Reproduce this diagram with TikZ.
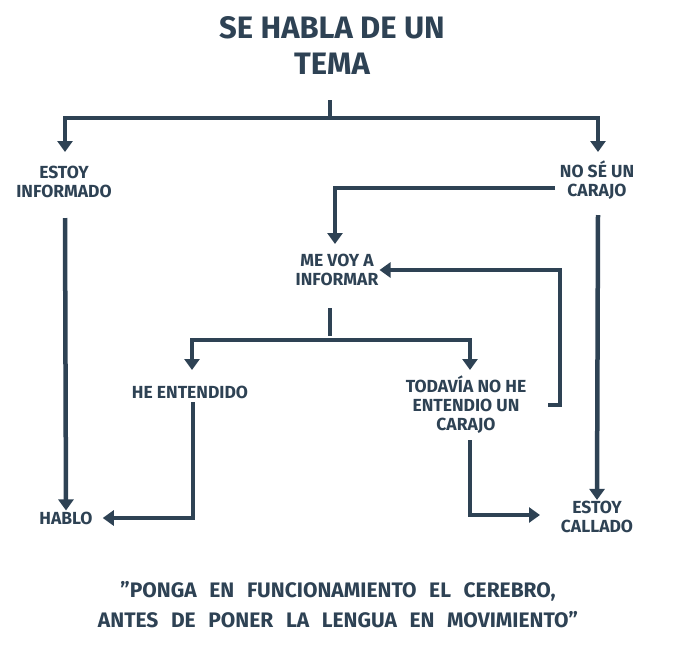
\documentclass[tikz,border=0pt]{standalone}
\usepackage{fontspec}
\setmainfont{Fira Sans}
\usetikzlibrary{arrows.meta}
\definecolor{ink}{HTML}{2E4254}
\begin{document}
\begin{tikzpicture}[x=1pt,y=-1pt,
  ln/.style={draw=ink,line width=4.5pt},
  ar/.style={ln,-{Triangle[length=11pt,width=15pt]}},
  lb/.style={text=ink,font=\fontsize{17.5}{19}\selectfont\bfseries,align=center,inner sep=1pt},
  tt/.style={text=ink,font=\fontsize{31}{36}\selectfont\bfseries,align=center}]
\useasboundingbox (0,0) rectangle (680,646);
\node[tt] (t) at (332,45) {SE HABLA DE UN\\TEMA};
\coordinate (t0) at (330,100);
\coordinate (tj) at (330,118);
\node[lb] (inf) at (64,182) {ESTOY\\INFORMADO};
\node[lb] (nose) at (597,180) {NO SÉ UN\\CARAJO};
\node[lb] (mev) at (337,270) {ME VOY A\\INFORMAR};
\node[lb] (he) at (190,392) {HE ENTENDIDO};
\node[lb] (tod) at (466,405) {TODAVÍA NO HE\\ENTENDIO UN\\CARAJO};
\node[lb,inner xsep=10pt] (hab) at (66,518) {HABLO};
\node[lb] (cal) at (597,517) {ESTOY\\CALLADO};
\draw[ln] (t0) -- (tj);
\draw[ar] (65,118) -- (598,118) -- (598,152);
\draw[ar] (tj) -| (65,152);
\draw[ar] (65,218) -- (hab.north);
\draw[ar] (555,188) -| (335,244);
\draw[ar] (598,215) -- (cal.north);
\draw[ln] (330,308) -- (330,336);
\draw[ar] (192,340) -- (470,340) -- (470,370);
\draw[ar] (330,340) -| (192,370);
\draw[ar] (548,405) -| (560,270) -- (mev.east);
\draw[ar] (193,402) |- (hab.east);
\draw[ar] (470,440) |- (540,515);
\node[text=ink,font=\fontsize{21}{30}\selectfont\bfseries,align=center] (q) at (338,605)
 {\spaceskip=0.6em"PONGA EN FUNCIONAMIENTO EL CEREBRO,\\\spaceskip=0.6em ANTES DE PONER LA LENGUA EN MOVIMIENTO"};
\end{tikzpicture}
\end{document}
